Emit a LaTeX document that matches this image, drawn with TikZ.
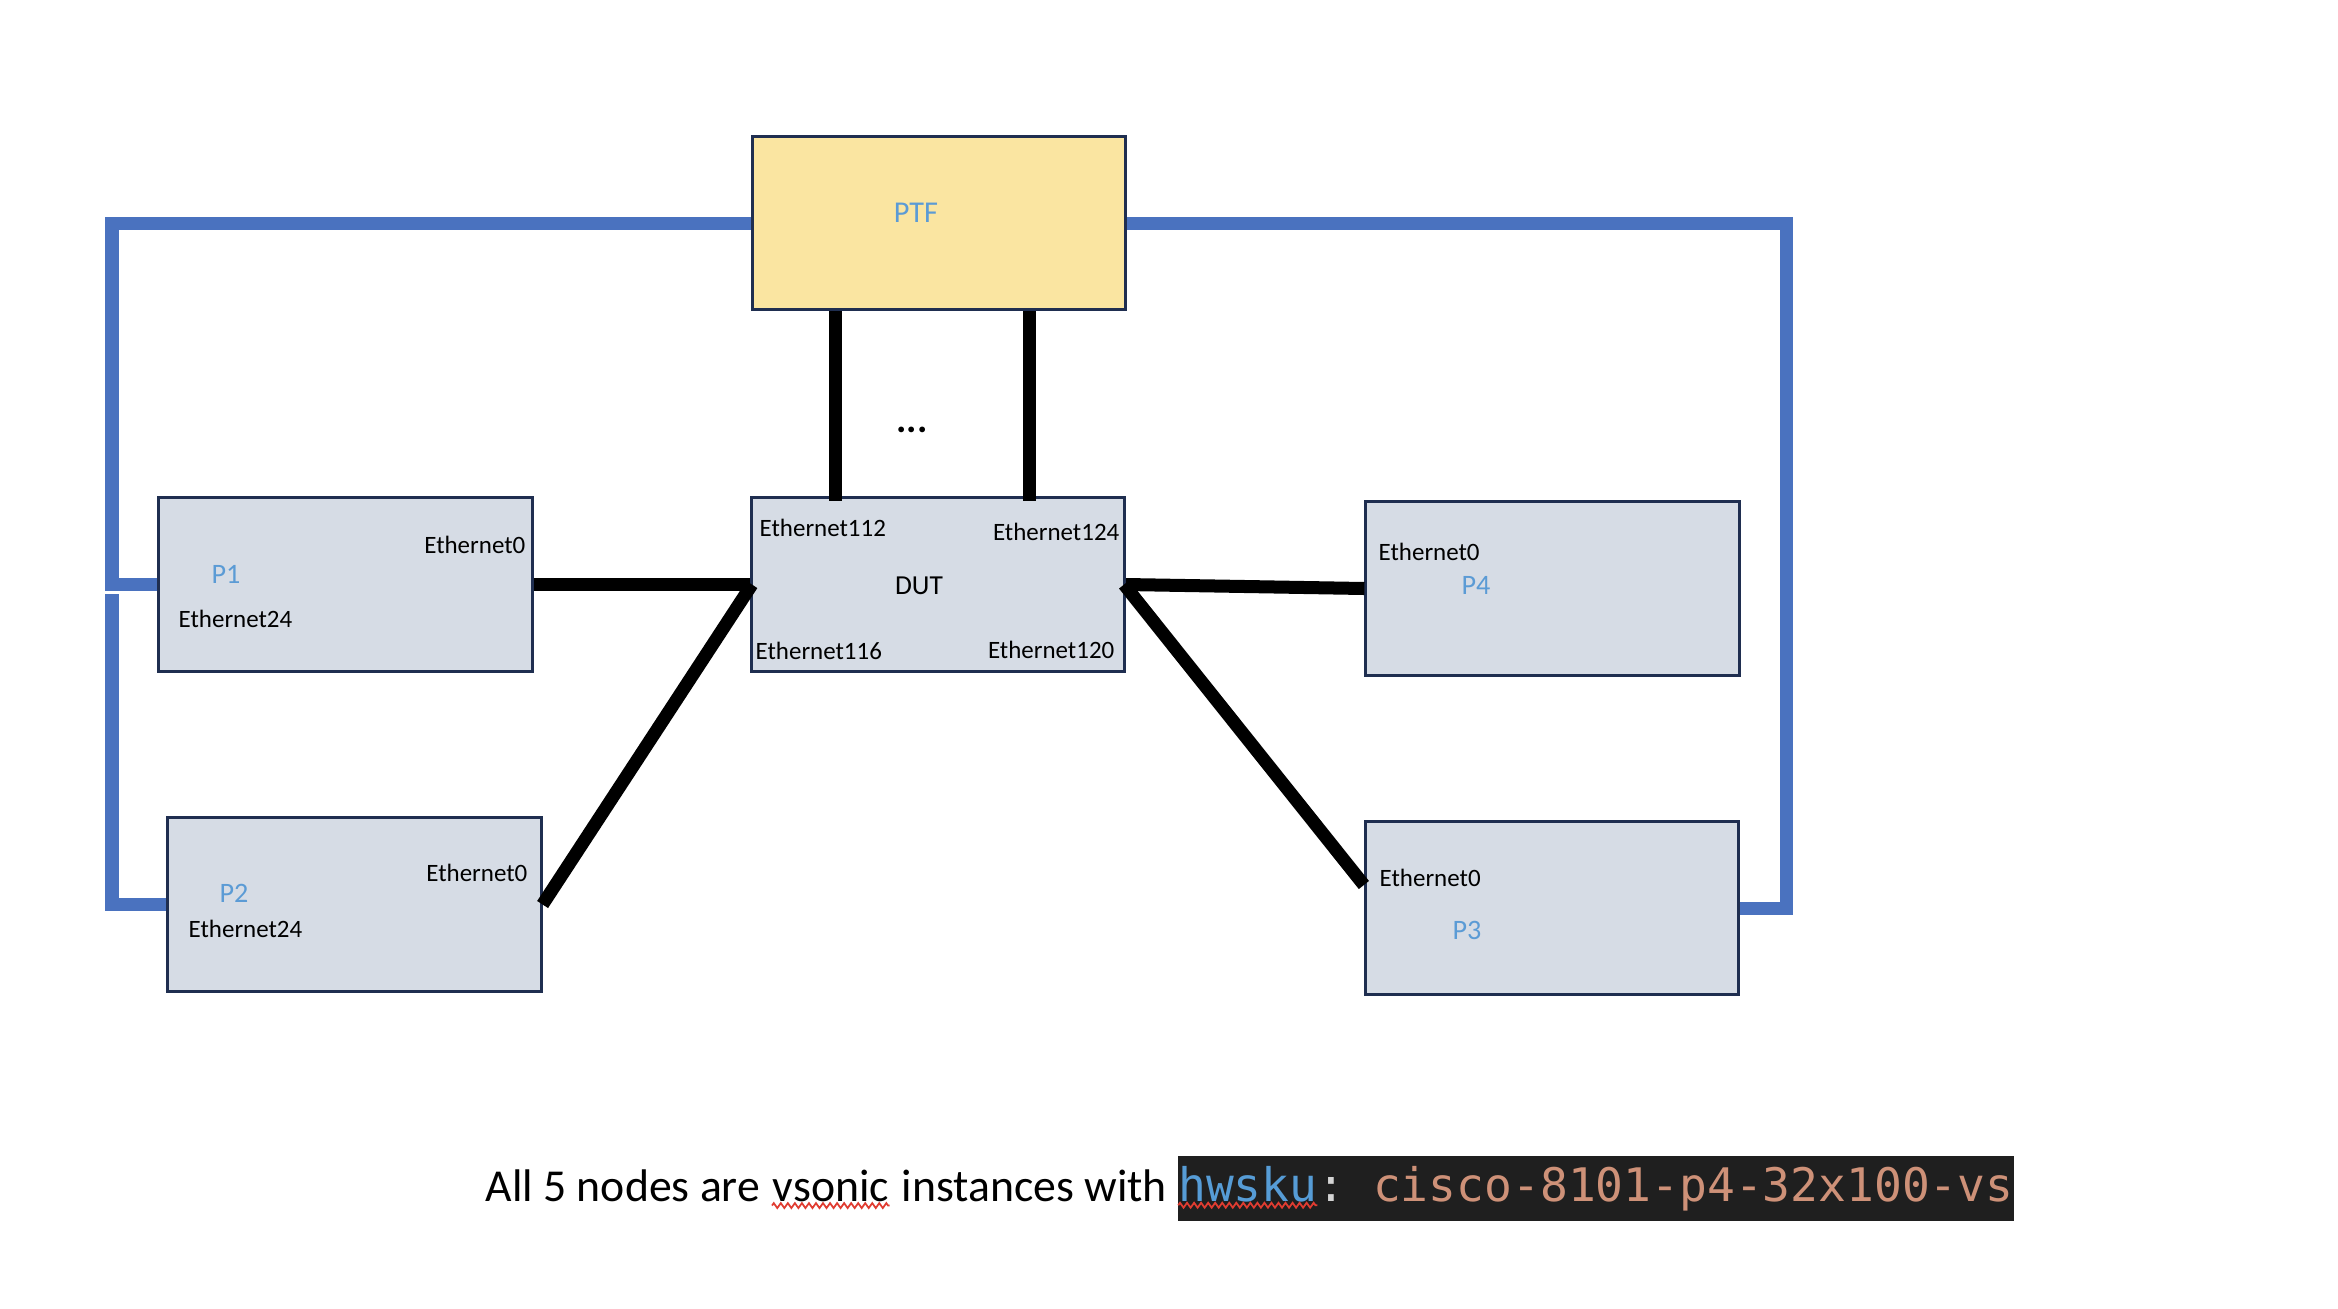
\documentclass[tikz,border=0pt]{standalone}
\usepackage{fontspec}
\setmainfont{Carlito}
\newfontfamily\codefont{DejaVu Sans Mono}
\usetikzlibrary{positioning,calc,decorations.pathmorphing}
\definecolor{boxfill}{HTML}{D6DCE5}
\definecolor{boxline}{HTML}{1F2E50}
\definecolor{ptffill}{HTML}{FAE5A1}
\definecolor{busblue}{HTML}{4A72BF}
\definecolor{lblblue}{HTML}{5B9BD5}
\definecolor{codebg}{HTML}{1F1F1F}
\definecolor{codekey}{HTML}{569CD6}
\definecolor{codepunct}{HTML}{D4D4D4}
\definecolor{codeval}{HTML}{CE9178}
\definecolor{squigred}{HTML}{E03C31}

\begin{document}
\begin{tikzpicture}[
  x=0.01cm, y=-0.01cm,
  hostbox/.style={draw=boxline,line width=0.85pt,fill=boxfill,
                  minimum width=3.73cm,minimum height=1.73cm,inner sep=0pt},
  port/.style={font=\fontsize{7.1}{8}\selectfont,inner sep=0pt},
  hostlbl/.style={font=\fontsize{8}{9}\selectfont,text=lblblue,inner sep=0pt},
  capt/.style={font=\fontsize{13}{15}\selectfont,inner sep=0pt},
  codepart/.style={fill=codebg,inner xsep=0pt,inner ysep=0pt,outer sep=0pt,
                   text height=12.8pt,text depth=5.8pt,
                   font=\codefont\fontsize{13.15}{15}\selectfont},
  dataln/.style={line width=0.13cm,black},
  ctrlln/.style={line width=0.13cm,busblue,line join=miter},
  squig/.style={squigred,line width=0.5pt,decorate,
                decoration={zigzag,amplitude=0.7pt,segment length=2pt}},
]
  \fill[white] (0,0) rectangle (2338,1308);
  \useasboundingbox (0,0) rectangle (2338,1308);

  % Boxes
  \node[hostbox,fill=ptffill] (ptf) at (939,223) {};
  \node[hostbox] (dut) at (938,584.5) {};
  \node[hostbox] (p1) at (345.5,584.5) {};
  \node[hostbox] (p2) at (354.5,904.5) {};
  \node[hostbox] (p4) at (1552.5,588.5) {};
  \node[hostbox] (p3) at (1552,908) {};

  % PTF and DUT labels
  \node[hostlbl,font=\fontsize{8.6}{10}\selectfont] (ptflbl) at (916,213) {PTF};
  \node[port,font=\fontsize{7.8}{9}\selectfont] (dutlbl) at (919,586) {DUT};
  \node[port,anchor=west] (e112) at (759,528) {Ethernet112};
  \node[port,anchor=east] (e124) at (1120,532) {Ethernet124};
  \node[port,anchor=west] (e116) at (755,651) {Ethernet116};
  \node[port,anchor=east] (e120) at (1115,650) {Ethernet120};

  % Peer labels
  \node[port,anchor=east] (p1e0) at (526,545) {Ethernet0};
  \node[hostlbl] (p1lbl) at (226,574) {P1};
  \node[port,anchor=west] (p1e24) at (178,619) {Ethernet24};
  \node[port,anchor=east] (p2e0) at (528,873) {Ethernet0};
  \node[hostlbl] (p2lbl) at (234,893) {P2};
  \node[port,anchor=west] (p2e24) at (188,929) {Ethernet24};
  \node[port,anchor=west] (p4e0) at (1378,552) {Ethernet0};
  \node[hostlbl] (p4lbl) at (1476,585) {P4};
  \node[port,anchor=west] (p3e0) at (1379,878) {Ethernet0};
  \node[hostlbl] (p3lbl) at (1467,930) {P3};

  \node[inner sep=0pt,font=\fontsize{11}{12}\selectfont\bfseries] (dots) at (912,430) {...};

  % Blue links from PTF
  \coordinate (lbus) at (112,584.5);
  \coordinate (lgap) at (112,594);
  \coordinate (rbus) at (1786,223);
  \draw[ctrlln] (ptf.west) -| (lbus) -- (p1.west);
  \draw[ctrlln] (lgap) |- (p2.west);
  \draw[ctrlln] (ptf.east) -- (rbus) |- (p3.east);

  % Black data links
  \draw[dataln] ($(ptf.south west)!0.224!(ptf.south east)$) coordinate (up1)
    -- ([yshift=-0.05cm]up1 |- dut.north);
  \draw[dataln] ($(ptf.south west)!0.741!(ptf.south east)$) coordinate (up2)
    -- ([yshift=-0.05cm]up2 |- dut.north);
  \draw[dataln] (p1.east) -- (dut.west);
  \draw[dataln] ([xshift=0.02cm]dut.west) -- (p2.east);
  \draw[dataln] (p4.west) -- (dut.east);
  \draw[dataln] ([xshift=-0.02cm]dut.east) -- ([yshift=0.23cm]p3.west);

  % Caption
  \node[capt,anchor=base west] (capa) at (485,1201) {All 5 nodes are};
  \node[capt,base right=3.2pt of capa] (capv) {vsonic};
  \node[capt,base right=3.2pt of capv] (capb) {instances with};
  \node[codepart,text=codekey,base right=3pt of capb] (hw) {hwsku};
  \node[codepart,text=codepunct,base right=0pt of hw] (colon) {:\hphantom{x}};
  \node[codepart,text=codeval,base right=0pt of colon] (sku) {cisco-8101-p4-32x100-vs};
  \draw[squig] ([yshift=-1.3pt]capv.base west) -- ([yshift=-1.3pt]capv.base east);
  \draw[squig] ([yshift=-1.2pt]hw.base west) -- ([yshift=-1.2pt]hw.base east);
\end{tikzpicture}
\end{document}
